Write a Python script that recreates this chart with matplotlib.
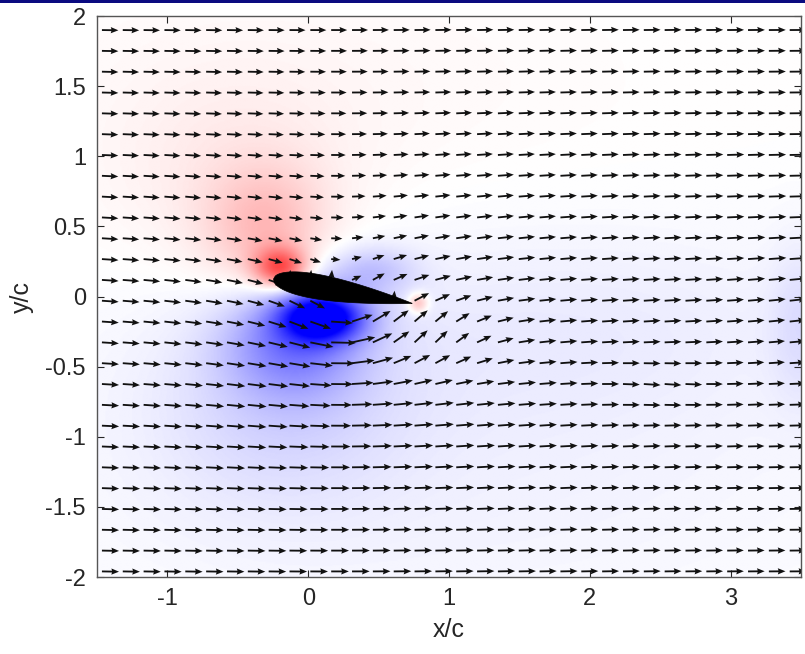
import numpy as np
import matplotlib
matplotlib.use('Agg')
import matplotlib.pyplot as plt
from matplotlib.colors import LinearSegmentedColormap
from matplotlib.patches import Polygon, Rectangle
from matplotlib.path import Path

plt.rcParams['font.family'] = ['Liberation Sans', 'DejaVu Sans']

###DATA###
# axis ranges and ticks
x_lim = (-1.5, 3.5)
y_lim = (-2.0, 2.0)
x_ticks = [-1, 0, 1, 2, 3]
y_ticks = [-2, -1.5, -1, -0.5, 0, 0.5, 1, 1.5, 2]
y_ticklabels = ['-2', '-1.5', '-1', '-0.5', '0', '0.5', '1', '1.5', '2']

# measurement grid of the vector field
grid_x = (-1.465, 3.42, 34)
grid_y = (-1.96, 1.90, 27)

# airfoil (pitched nose up)
le_x, le_y = -0.246, 0.125
chord = 1.0
thickness = 0.175
pitch_deg = 10.0

# flow model: free stream + vortices (x, y, circulation, core radius)
u_inf = 1.0
vortices = [(0.20, -0.08, 1.10, 0.22),
            (3.75, -0.05, -0.30, 0.30)]
# local velocity bumps (x, y, sx, sy, du, dv)
bumps = [(0.85, -0.30, 0.30, 0.18, -0.35, 0.50),
         (2.45, -0.62, 0.30, 0.15, 0.00, -0.12)]
inside_uv = (0.05, 0.60)

# scalar (pressure-like) field blobs (x, y, sx, sy, amplitude)
blobs = [(-0.20, 0.20, 0.13, 0.10, 0.65),
         (-0.30, 0.45, 0.30, 0.32, 0.25),
         (-0.55, 0.85, 0.60, 0.50, 0.07),
         (0.78, -0.05, 0.05, 0.05, 0.30),
         (0.00, 1.50, 1.50, 0.60, 0.025),
         (0.10, -0.15, 0.20, 0.12, -1.00),
         (-0.10, -0.30, 0.33, 0.28, -0.45),
         (-0.20, -0.80, 0.60, 0.50, -0.13),
         (0.45, 0.18, 0.22, 0.12, -0.20),
         (1.80, -0.20, 1.50, 0.50, -0.06),
         (1.00, -1.20, 2.00, 0.80, -0.05),
         (3.50, -0.20, 0.15, 0.40, -0.10)]

##### AIRFOIL #####
s = np.linspace(0, 1, 120)
yt = 5 * thickness * (0.2969 * np.sqrt(s) - 0.1260 * s - 0.3516 * s**2
                      + 0.2843 * s**3 - 0.1036 * s**4)
xs = np.concatenate([s, s[::-1]]) * chord
ys = np.concatenate([yt, -yt[::-1]]) * chord
a = np.deg2rad(-pitch_deg)
foil_x = le_x + xs * np.cos(a) - ys * np.sin(a)
foil_y = le_y + xs * np.sin(a) + ys * np.cos(a)
foil = np.column_stack([foil_x, foil_y])

##### FIELDS #####
X, Y = np.meshgrid(np.linspace(*grid_x), np.linspace(*grid_y))
U = np.full_like(X, u_inf)
V = np.zeros_like(X)
for vx, vy, gam, rc in vortices:
    dx, dy = X - vx, Y - vy
    r2 = dx**2 + dy**2 + 1e-9
    k = gam / (2 * np.pi * r2) * (1 - np.exp(-r2 / rc**2)) * np.exp(-r2 / 2.5**2)
    U += -k * dy
    V += k * dx
for bx, by, sx, sy, du, dv in bumps:
    g = np.exp(-((X - bx)**2 / (2 * sx**2) + (Y - by)**2 / (2 * sy**2)))
    U += du * g
    V += dv * g
inside = Path(foil).contains_points(np.column_stack([X.ravel(), Y.ravel()])).reshape(X.shape)
U[inside] = inside_uv[0]
V[inside] = inside_uv[1]

fx, fy = np.meshgrid(np.linspace(*x_lim, 600), np.linspace(*y_lim, 480))
F = np.zeros_like(fx)
for bx, by, sx, sy, amp in blobs:
    F += amp * np.exp(-((fx - bx)**2 / (2 * sx**2) + (fy - by)**2 / (2 * sy**2)))

##### PLOT #####
fig = plt.figure(figsize=(8.05, 6.54), dpi=100)
ax = fig.add_axes([0.1205, 0.1177, 0.8745, 0.8578])

cmap = LinearSegmentedColormap.from_list('bwr_m', [(0, 0, 1), (1, 1, 1), (1, 0, 0)])
ax.imshow(F, extent=[*x_lim, *y_lim], origin='lower', cmap=cmap, vmin=-1, vmax=1,
          interpolation='bilinear', aspect='auto', zorder=0)

ax.quiver(X, Y, U, V, angles='xy', scale_units='xy', scale=8.4, color='#111111',
          width=0.0026, headwidth=3.4, headlength=4.2, headaxislength=3.8, zorder=2)

ax.add_patch(Polygon(foil, closed=True, fc='k', ec='k', lw=0.5, zorder=3))

ax.set_xlim(*x_lim)
ax.set_ylim(*y_lim)
ax.set_xticks(x_ticks, labels=[str(t) for t in x_ticks])
ax.set_yticks(y_ticks, labels=y_ticklabels)
ax.tick_params(direction='in', length=5, width=0.8, colors='#262626', labelsize=17,
               top=True, right=True, pad=8)
for sp in ax.spines.values():
    sp.set_color('#555555')
    sp.set_linewidth(1.0)
ax.set_xlabel('x/c', fontsize=18, color='#262626', labelpad=6)
ax.set_ylabel('y/c', fontsize=18, color='#262626', labelpad=8)

# thin blue bar along the top edge
fig.add_artist(Rectangle((0, 1 - 3 / 654), 1, 3 / 654, transform=fig.transFigure,
                         fc='#0a0a80', ec='none'))

plt.savefig('out.png', dpi=100)
